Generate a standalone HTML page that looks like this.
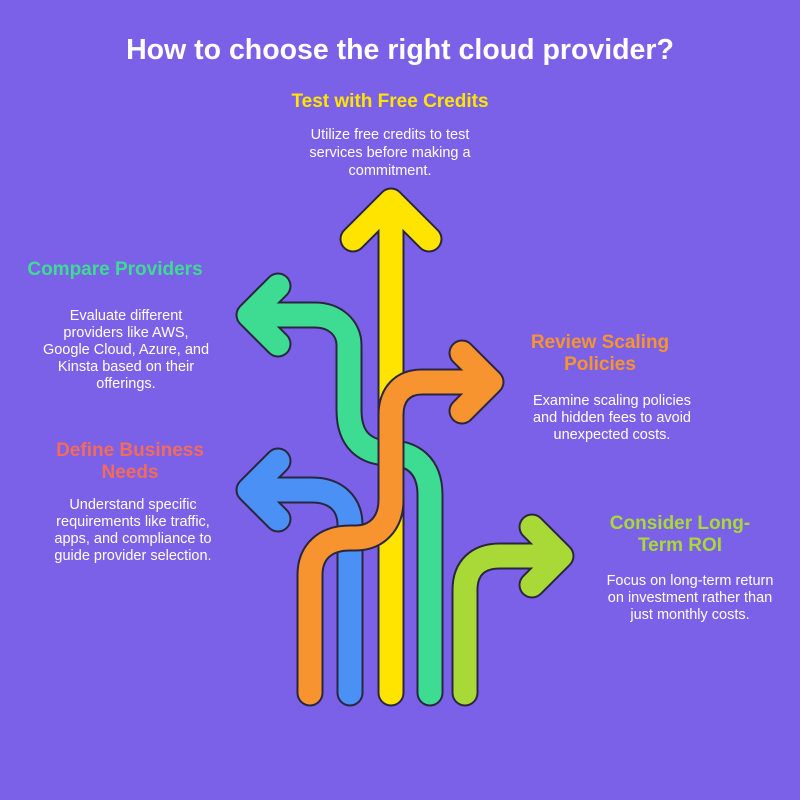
<!DOCTYPE html>
<html><head><meta charset="utf-8"><style>
html,body{margin:0;padding:0;background:#7B61E8;}
svg{display:block;}
text{font-family:"Liberation Sans",Arial,sans-serif;}
.h{font-weight:bold;font-size:19px;text-anchor:middle;}
.d{fill:#fff;font-size:14.5px;text-anchor:middle;}
</style></head><body>
<svg width="800" height="800" viewBox="0 0 800 800" xmlns="http://www.w3.org/2000/svg">
<rect width="800" height="800" fill="#7B61E8"/>
<text x="400" y="59" fill="#fff" font-size="28.5" font-weight="bold" text-anchor="middle">How to choose the right cloud provider?</text>

<text class="h" x="390" y="107" fill="#FFE400">Test with Free Credits</text>
<text class="d" x="390" y="139">Utilize free credits to test</text>
<text class="d" x="390" y="157">services before making a</text>
<text class="d" x="390" y="175">commitment.</text>

<text class="h" x="115" y="275" fill="#3EDB93">Compare Providers</text>
<text class="d" x="126" y="320">Evaluate different</text>
<text class="d" x="126" y="337">providers like AWS,</text>
<text class="d" x="126" y="354">Google Cloud, Azure, and</text>
<text class="d" x="126" y="371">Kinsta based on their</text>
<text class="d" x="126" y="388">offerings.</text>

<text class="h" x="130" y="456" fill="#F26B5B">Define Business</text>
<text class="h" x="130" y="478" fill="#F26B5B">Needs</text>
<text class="d" x="133" y="509">Understand specific</text>
<text class="d" x="133" y="526">requirements like traffic,</text>
<text class="d" x="133" y="543">apps, and compliance to</text>
<text class="d" x="133" y="560">guide provider selection.</text>

<text class="h" x="600" y="348" fill="#F7942F">Review Scaling</text>
<text class="h" x="600" y="370" fill="#F7942F">Policies</text>
<text class="d" x="612" y="405">Examine scaling policies</text>
<text class="d" x="612" y="422">and hidden fees to avoid</text>
<text class="d" x="612" y="439">unexpected costs.</text>

<text class="h" x="680" y="529" fill="#A8D936">Consider Long-</text>
<text class="h" x="680" y="551" fill="#A8D936">Term ROI</text>
<text class="d" x="690" y="585">Focus on long-term return</text>
<text class="d" x="690" y="602">on investment rather than</text>
<text class="d" x="690" y="619">just monthly costs.</text>

<g fill="none" stroke-linecap="round" stroke-linejoin="round">
  <g>
    <path d="M430,693 V495 C430,465 412,453 390,453 C365,453 349,440 349,410 V345 C349,328 335,315 315,315 H255 M278,286 L249,315 L278,344" stroke="#2a2540" stroke-width="27"/>
    <path d="M430,693 V495 C430,465 412,453 390,453 C365,453 349,440 349,410 V345 C349,328 335,315 315,315 H255 M278,286 L249,315 L278,344" stroke="#3EDB93" stroke-width="23"/>
  </g>
  <g>
    <path d="M391,693 V205 M353,239 L391,201 L429,239" stroke="#2a2540" stroke-width="27"/>
    <path d="M391,693 V205 M353,239 L391,201 L429,239" stroke="#FFE400" stroke-width="23"/>
  </g>
  <g>
    <path d="M350,693 V525 C350,503 335,490 312,490 H255 M278,461 L249,490 L278,519" stroke="#2a2540" stroke-width="27"/>
    <path d="M350,693 V525 C350,503 335,490 312,490 H255 M278,461 L249,490 L278,519" stroke="#4A90F5" stroke-width="23"/>
  </g>
  <g>
    <path d="M310,693 V575 C310,552 325,538 350,538 H355 C377,538 391,523 391,500 V415 C391,395 402,382 422,382 H485 M462,353 L491,382 L462,411" stroke="#2a2540" stroke-width="27"/>
    <path d="M310,693 V575 C310,552 325,538 350,538 H355 C377,538 391,523 391,500 V415 C391,395 402,382 422,382 H485 M462,353 L491,382 L462,411" stroke="#F7942F" stroke-width="23"/>
  </g>
  <g>
    <path d="M465,693 V590 C465,568 478,556 500,556 H555 M532,527 L561,556 L532,585" stroke="#2a2540" stroke-width="27"/>
    <path d="M465,693 V590 C465,568 478,556 500,556 H555 M532,527 L561,556 L532,585" stroke="#A8D936" stroke-width="23"/>
  </g>
</g>
</svg>
</body></html>
